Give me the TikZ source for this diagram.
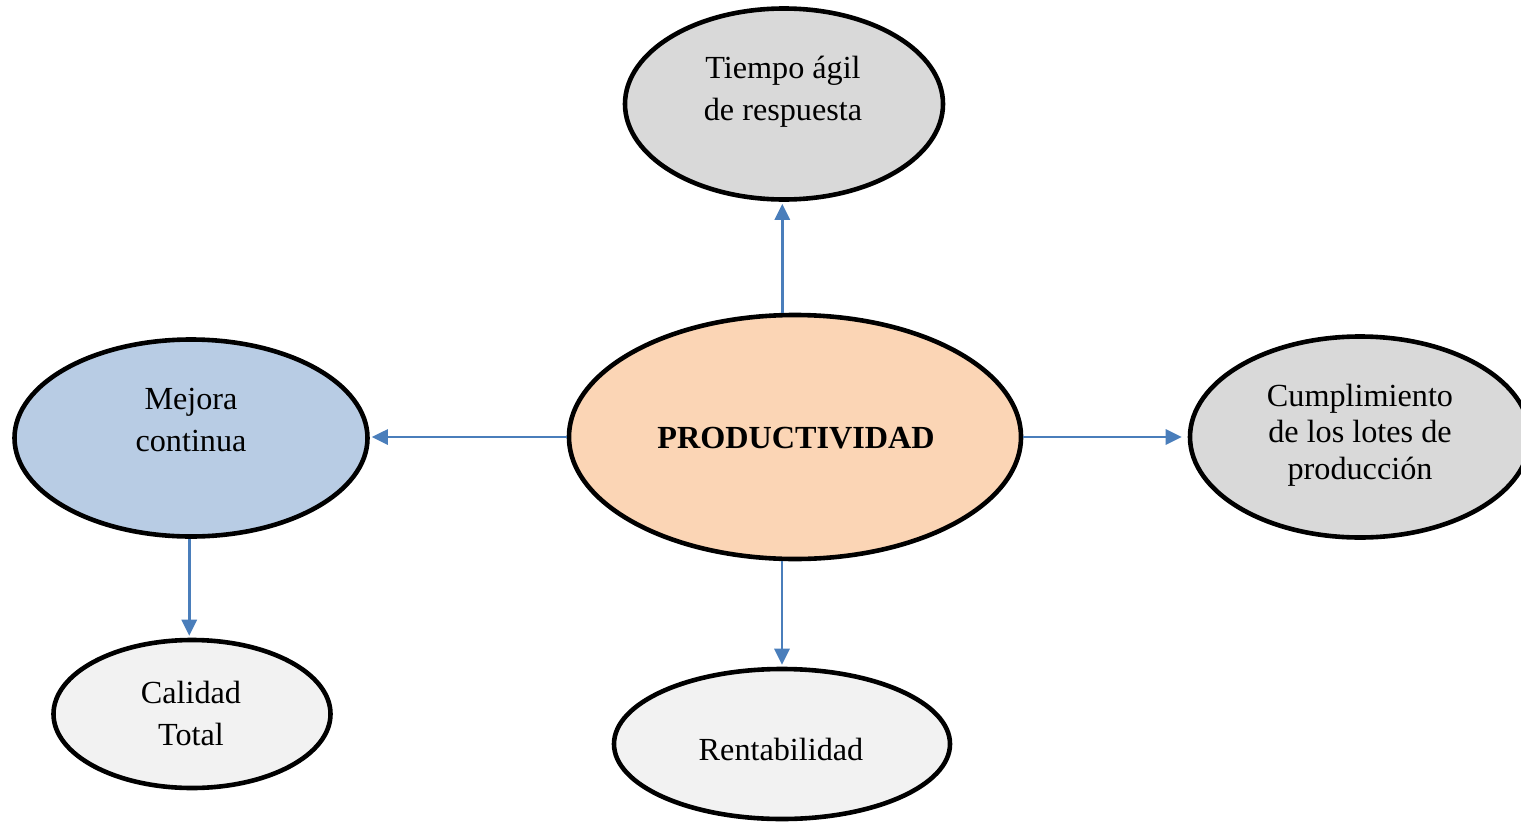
\documentclass[tikz,border=0pt]{standalone}
\usepackage{fontspec}
\setmainfont{Liberation Serif}
\usetikzlibrary{arrows.meta,shapes.geometric}
\definecolor{fillblue}{HTML}{B8CCE4}
\definecolor{fillpeach}{HTML}{FBD5B5}
\definecolor{fillgray}{HTML}{D9D9D9}
\definecolor{filllight}{HTML}{F2F2F2}
\definecolor{arrowblue}{HTML}{4A7EBB}
\tikzset{
  bubble/.style={ellipse, draw=black, line width=4.6pt, inner sep=0pt},
  label/.style={align=center, inner sep=0pt, font=\fontsize{32.2}{42}\selectfont},
  link/.style={draw=arrowblue, line width=2.8pt, -{Triangle[length=16pt,width=15pt]}}
}
\begin{document}
\begin{tikzpicture}[x=1pt,y=-1pt]
\useasboundingbox (0,0) rectangle (1521,822);
\clip (0,0) rectangle (1521,822);

% ellipses
\node[bubble, fill=fillpeach, minimum width=452pt, minimum height=244pt] (c) at (795,437) {};
\node[bubble, fill=fillgray,  minimum width=318pt, minimum height=191pt] (top) at (784,104) {};
\node[bubble, fill=fillblue,  minimum width=353pt, minimum height=197pt] (mej) at (191,438) {};
\node[bubble, fill=fillgray,  minimum width=340pt, minimum height=201pt] (cum) at (1360,437) {};
\node[bubble, fill=filllight, minimum width=277pt, minimum height=148pt] (cal) at (192,714) {};
\node[bubble, fill=filllight, minimum width=336pt, minimum height=150pt] (ren) at (782,744) {};

% texts
\node[label, font=\fontsize{32.2}{42}\selectfont\bfseries] (tc) at (796,438) {PRODUCTIVIDAD};
\node[label] (ttop) at (783,92) {Tiempo ágil\\de respuesta};
\node[label] (tmej) at (191,420) {Mejora\\continua};
\node[label, font=\fontsize{32.2}{36.5}\selectfont] (tcum) at (1360,435) {Cumplimiento\\de los lotes de\\producción};
\node[label] (tcal) at (191,713) {Calidad\\Total};
\node[label] (tren) at (781,749) {Rentabilidad};

% connectors
\draw[link, shorten >=2pt] (c.north -| top.-91) -- (top.-91);
\draw[link, shorten >=2pt] (c.west) -- (c.west -| mej.east);
\draw[link, shorten >=6pt] (c.east) -- (c.east -| cum.west);
\draw[link, shorten >=2pt] (c.south -| ren.north) -- (ren.north);
\draw[link, shorten >=2pt] (mej.-91) -- (mej.-91 |- cal.north);
\end{tikzpicture}
\end{document}
